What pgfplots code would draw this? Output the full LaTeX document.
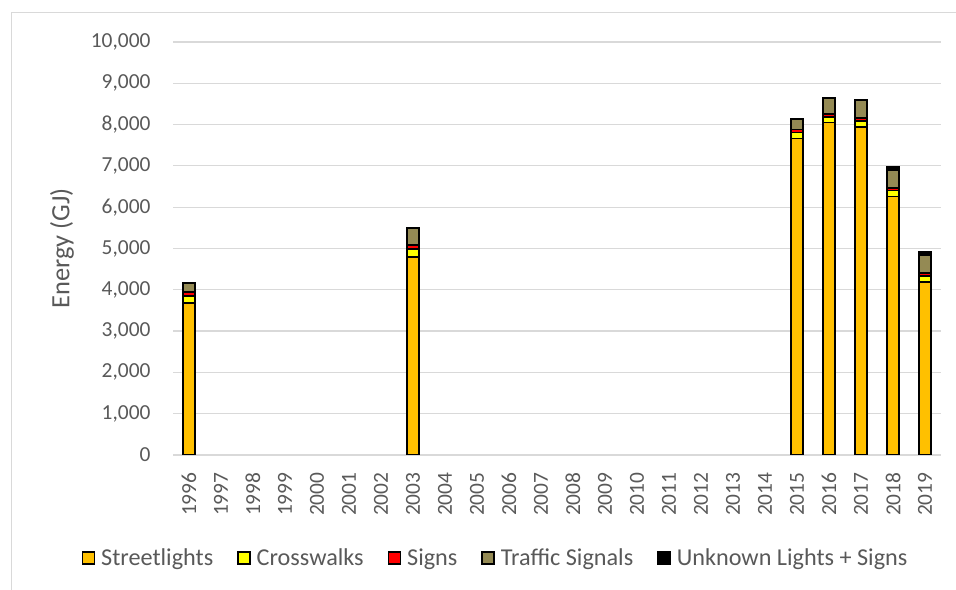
\documentclass[border=0pt]{standalone}
\usepackage{pgfplots}
\pgfplotsset{compat=1.18}
\usepackage{fontspec}
\setmainfont{Carlito}
\definecolor{txt}{HTML}{595959}
\definecolor{grd}{HTML}{D9D9D9}
\definecolor{cStreet}{HTML}{FFC000}
\definecolor{cCross}{HTML}{FFFF00}
\definecolor{cSign}{HTML}{FF0000}
\definecolor{cTraf}{HTML}{948A54}
\definecolor{cUnk}{HTML}{000000}
\begin{document}
\begin{tikzpicture}[x=1bp,y=1bp]
\useasboundingbox (0,0) rectangle (956,590);
\draw[grd, line width=1bp] (11,-5) -- (11,577) -- (970,577);
\begin{axis}[
  at={(173bp,135bp)}, anchor=south west,
  scale only axis, width=768bp, height=413bp,
  ybar stacked, bar width=12.5bp,
  xmin=-0.5, xmax=23.5, ymin=0, ymax=10000,
  xtick={0,...,23},
  xticklabels={1996,1997,1998,1999,2000,2001,2002,2003,2004,2005,2006,2007,2008,2009,2010,2011,2012,2013,2014,2015,2016,2017,2018,2019},
  ytick={0,1000,...,10000},
  scaled y ticks=false,
  major tick length=0pt,
  axis line style={draw=none},
  ymajorgrids, grid style={grd, line width=1.2bp},
  /pgf/number format/.cd, fixed, 1000 sep={,}, assume math mode=true,
  /pgfplots/.cd,
  tick label style={font=\fontsize{21.5}{24}\selectfont, text=txt},
  xticklabel style={rotate=90, anchor=east, xshift=-14bp, yshift=0bp},
  yticklabel style={anchor=east, xshift=-19bp},
  ylabel={Energy (GJ)},
  ylabel style={at={(axis description cs:-0.1445,0.5)}, anchor=center, font=\fontsize{26.5}{30}\selectfont, text=txt},
  legend columns=5,
  legend style={draw=none, at={(axis description cs:0.42,-0.249)}, anchor=center,
    font=\fontsize{24.3}{28}\selectfont, text=txt,
    /tikz/every odd column/.append style={column sep=4bp},
    /tikz/every even column/.append style={column sep=22bp}},
  legend image code/.code={\draw[#1, draw=black, line width=1.5bp] (0bp,-6bp) rectangle (12bp,6bp);},
  every axis plot/.append style={draw=black, line width=1.8bp},
]
\addplot[fill=cStreet] coordinates {(0,3680) (7,4794) (19,7663) (20,8050) (21,7940) (22,6259) (23,4189)};
\addplot[fill=cCross] coordinates {(0,170) (7,195) (19,145) (20,135) (21,140) (22,145) (23,145)};
\addplot[fill=cSign] coordinates {(0,90) (7,100) (19,75) (20,70) (21,70) (22,70) (23,70)};
\addplot[fill=cTraf] coordinates {(0,230) (7,410) (19,255) (20,385) (21,440) (22,435) (23,435)};
\addplot[fill=cUnk] coordinates {(0,0) (7,0) (19,0) (20,0) (21,0) (22,60) (23,70)};
\legend{Streetlights,Crosswalks,Signs,Traffic Signals,Unknown Lights + Signs}
\end{axis}
\end{tikzpicture}
\end{document}
